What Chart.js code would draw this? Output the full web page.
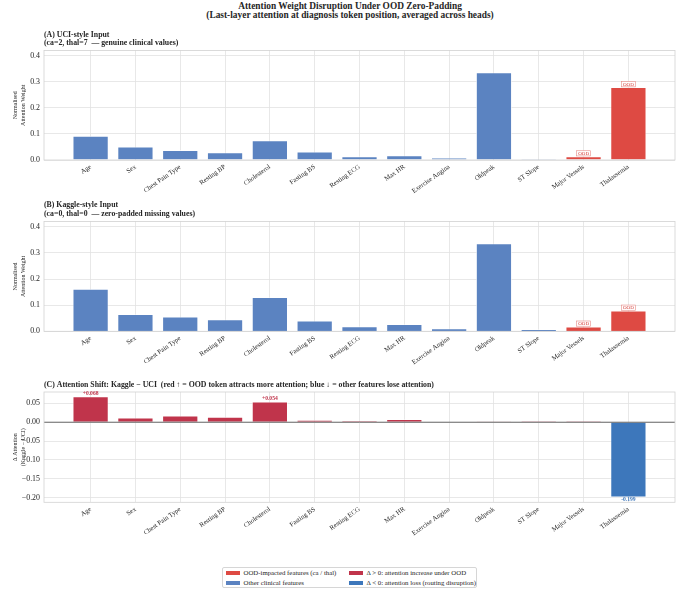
<!DOCTYPE html>
<html><head><meta charset="utf-8">
<script src="https://cdn.jsdelivr.net/npm/chart.js@4.4.1/dist/chart.umd.min.js"></script>
<style>
html,body{margin:0;padding:0;background:#fff;}
#wrap{position:relative;width:680px;height:594px;overflow:hidden;font-family:"Liberation Serif","Times New Roman",serif;color:#262626;}
canvas{position:absolute;left:0;}
#title{position:absolute;left:0;width:700px;top:2.3px;text-align:center;font-weight:bold;font-size:9.4px;line-height:9px;white-space:nowrap;}
#legend{position:absolute;left:222px;top:566.5px;width:255px;height:21.5px;border:0.8px solid #d6d6d6;border-radius:2px;box-sizing:border-box;font-size:6.8px;}
.li{position:absolute;white-space:nowrap;line-height:8px;}
.sw{position:absolute;width:14px;height:4.5px;}
</style></head>
<body>
<div id="wrap">
  <div id="title">Attention Weight Disruption Under OOD Zero-Padding<br>(Last-layer attention at diagnosis token position, averaged across heads)</div>
  <canvas id="chartA" width="680" height="175" style="top:25px"></canvas>
  <canvas id="chartB" width="680" height="175" style="top:195px"></canvas>
  <canvas id="chartC" width="680" height="175" style="top:370px"></canvas>
  <div id="legend"></div>
</div>
<script>
// ---------- data ----------
const categories = ['Age','Sex','Chest Pain Type','Resting BP','Cholesterol','Fasting BS','Resting ECG','Max HR','Exercise Angina','Oldpeak','ST Slope','Major Vessels','Thalassemia'];
const uciAttention    = [0.092,0.051,0.038,0.029,0.075,0.032,0.014,0.017,0.009,0.336,0.004,0.014,0.279];
const kaggleAttention = [0.162,0.065,0.056,0.045,0.130,0.041,0.019,0.027,0.011,0.336,0.008,0.018,0.079];
const attentionShift  = [0.068,0.012,0.017,0.014,0.054,0.006,0.004,0.008,0.001,0.0005,0.003,0.003,-0.199];
const oodFeatures = ['Major Vessels','Thalassemia'];
const shiftLabelled = ['Age','Cholesterol','Thalassemia'];
const weightTicks = [0,0.1,0.2,0.3,0.4];
const shiftTicks = [-0.20,-0.15,-0.10,-0.05,0.00,0.05];
const legendItems = [
  ['OOD-impacted features (ca / thal)','ood'],
  ['Other clinical features','other'],
  ['\u0394 > 0: attention increase under OOD','pos'],
  ['\u0394 < 0: attention loss (routing disruption)','neg']
];

// ---------- styles ----------
const FONT = '"Liberation Serif","Times New Roman",serif';
const COL = {ood:'#de4a43', other:'#5b83c1', pos:'#c0344b', neg:'#3d77bb'};
const TXT = '#262626';
const GRID = '#e2e2e2';

const framePlugin = {
  id:'frameLabels',
  afterDatasetsDraw(chart, args, o){
    const {ctx, chartArea:a} = chart;
    const meta = chart.getDatasetMeta(0);
    ctx.save();
    if (o.zeroLine){
      const y0 = chart.scales.y.getPixelForValue(0);
      ctx.strokeStyle = '#5a5a5a'; ctx.lineWidth = 0.9;
      ctx.beginPath(); ctx.moveTo(a.left, y0); ctx.lineTo(a.right, y0); ctx.stroke();
    }
    ctx.strokeStyle = '#d2d2d2'; ctx.lineWidth = 0.8;
    ctx.strokeRect(a.left, a.top, a.right - a.left, a.bottom - a.top);
    // subplot titles
    ctx.fillStyle = TXT; ctx.textAlign = 'left'; ctx.textBaseline = 'middle';
    ctx.font = 'bold 7.8px ' + FONT;
    (o.titles || []).forEach(t => ctx.fillText(t[0], a.left, a.top + t[1]));
    // OOD tags
    if (o.oodTags){
      ctx.font = '5px ' + FONT; ctx.textAlign = 'center';
      categories.forEach((c,i) => {
        if (!oodFeatures.includes(c)) return;
        const el = meta.data[i];
        const w = ctx.measureText('OOD').width + 3, h = 5.2, cy = el.y - 3;
        ctx.fillStyle = '#ffffff'; ctx.fillRect(el.x - w/2, cy - h/2, w, h);
        ctx.strokeStyle = '#e68a86'; ctx.lineWidth = 0.6; ctx.strokeRect(el.x - w/2, cy - h/2, w, h);
        ctx.fillStyle = '#d63a34'; ctx.fillText('OOD', el.x, cy + 0.3);
      });
    }
    // delta labels
    if (o.deltaLabels){
      ctx.font = 'bold 5.6px ' + FONT; ctx.textAlign = 'center';
      categories.forEach((c,i) => {
        if (!shiftLabelled.includes(c)) return;
        const v = attentionShift[i], el = meta.data[i];
        const txt = (v > 0 ? '+' : '') + v.toFixed(3);
        ctx.fillStyle = v > 0 ? COL.pos : COL.neg;
        ctx.fillText(txt, el.x, v > 0 ? el.y - 3.3 : el.y + 2.2);
      });
    }
    ctx.restore();
  }
};

function makeChart(id, values, colors, cfg){
  return new Chart(document.getElementById(id), {
    type:'bar',
    data:{datasets:[{
      data: values.map((v,i) => ({x:i, y:v})),
      backgroundColor: colors,
      borderColor:'rgba(255,255,255,0.7)',
      borderWidth:0.8,
      barPercentage:0.8,
      categoryPercentage:1
    }]},
    options:{
      responsive:false, animation:false,
      layout:{padding:{top:cfg.padTop, right:5, left:0, bottom:0}},
      plugins:{legend:{display:false}, tooltip:{enabled:false}, frameLabels:cfg.plugin},
      scales:{
        x:{
          type:'linear', min:-1.04, max:13.04, offset:false,
          afterBuildTicks: s => { s.ticks = categories.map((c,i) => ({value:i})); },
          afterFit: s => { s.height = cfg.xHeight; },
          ticks:{autoSkip:false, minRotation:35, maxRotation:35, padding:3,
                 font:{family:FONT, size:6.7}, color:TXT, callback: v => categories[v]},
          grid:{color:GRID, lineWidth:0.8, drawTicks:false, offset:false},
          border:{display:false}
        },
        y:{
          min:cfg.yMin, max:cfg.yMax,
          afterBuildTicks: s => { s.ticks = cfg.ticks.map(v => ({value:v})); },
          afterFit: s => { s.width = 44; },
          ticks:{padding:4, font:{family:FONT, size:7.9}, color:TXT, callback:cfg.fmt},
          grid:{color:GRID, lineWidth:0.8, drawTicks:false},
          border:{display:false},
          title:{display:true, text:cfg.yTitle, color:TXT,
                 font:{family:FONT, size:6, lineHeight:1.3}, padding:{top:11.8, bottom:0}}
        }
      }
    },
    plugins:[framePlugin]
  });
}

const weightColors = categories.map(c => oodFeatures.includes(c) ? COL.ood : COL.other);
const shiftColors = attentionShift.map(v => v >= 0 ? COL.pos : COL.neg);
const fmt1 = v => v.toFixed(1);
const fmt2 = v => v.toFixed(2).replace('-', '\u2212');

makeChart('chartA', uciAttention, weightColors, {
  padTop:25.5, xHeight:40, yMin:0, yMax:0.42, ticks:weightTicks, fmt:fmt1,
  yTitle:['Normalised','Attention Weight'],
  plugin:{titles:[['(A) UCI-style Input',-16],['(ca=2, thal=7  \u2014 genuine clinical values)',-7.4]], oodTags:true}
});
makeChart('chartB', kaggleAttention, weightColors, {
  padTop:26.5, xHeight:38.7, yMin:0, yMax:0.42, ticks:weightTicks, fmt:fmt1,
  yTitle:['Normalised','Attention Weight'],
  plugin:{titles:[['(B) Kaggle-style Input',-16.2],['(ca=0, thal=0  \u2014 zero-padded missing values)',-7.5]], oodTags:true}
});
makeChart('chartC', attentionShift, shiftColors, {
  padTop:22, xHeight:42.7, yMin:-0.212, yMax:0.08, ticks:shiftTicks, fmt:fmt2,
  yTitle:['\u0394 Attention','(Kaggle \u2212 UCI)'],
  plugin:{titles:[['(C) Attention Shift: Kaggle \u2212 UCI  (red \u2191 = OOD token attracts more attention; blue \u2193 = other features lose attention)',-6.8]], zeroLine:true, deltaLabels:true}
});

// ---------- legend ----------
const lg = document.getElementById('legend');
const pos = [[2.5,5.3],[2.5,15.3],[125.5,5.3],[125.5,15.3]];
legendItems.forEach((it,k) => {
  const [x,cy] = pos[k];
  const sw = document.createElement('div');
  sw.className = 'sw'; sw.style.left = x + 'px'; sw.style.top = (cy - 2.25) + 'px';
  sw.style.background = COL[it[1]];
  const t = document.createElement('div');
  t.className = 'li'; t.style.left = (x + 18) + 'px'; t.style.top = (cy - 4) + 'px';
  t.textContent = it[0];
  lg.appendChild(sw); lg.appendChild(t);
});
</script>
</body></html>
